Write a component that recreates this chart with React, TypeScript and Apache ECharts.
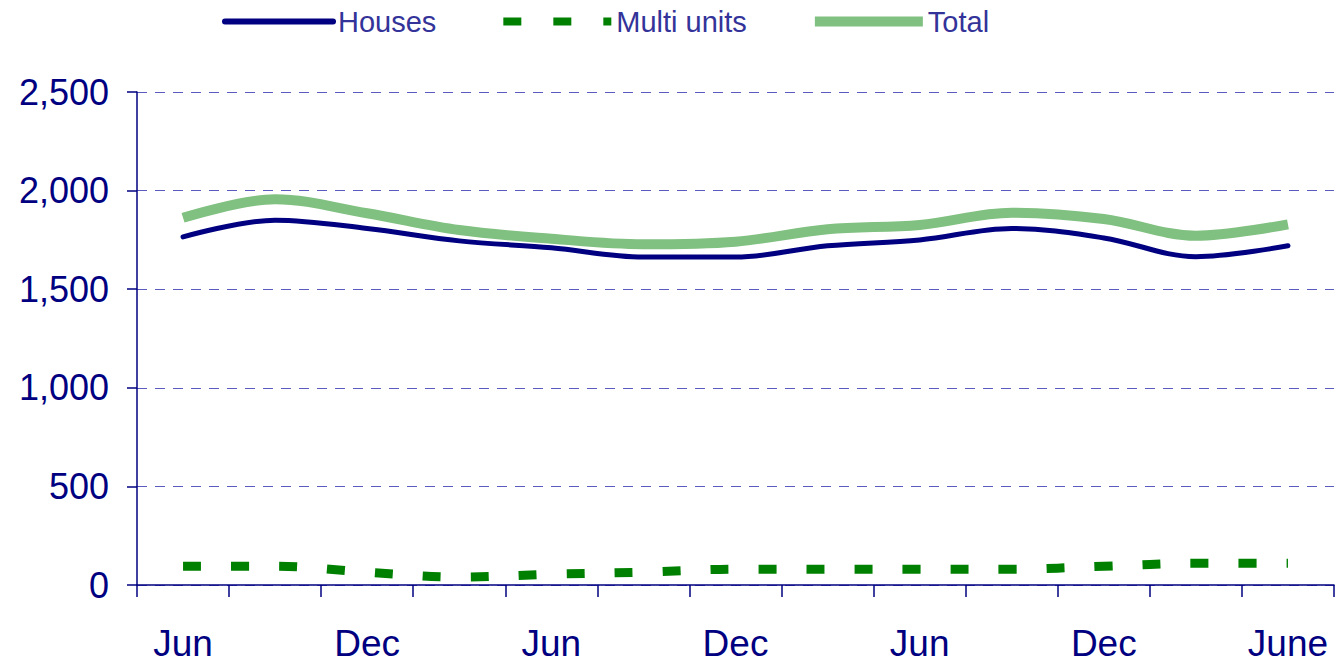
import React, { useEffect, useRef } from "react";
import * as echarts from "echarts";

const categories = ["Jun", "Sep", "Dec", "Mar", "Jun", "Sep", "Dec", "Mar", "Jun", "Sep", "Dec", "Mar", "June"];
const houses = [1765, 1850, 1808, 1745, 1710, 1663, 1663, 1720, 1750, 1808, 1760, 1665, 1720];
const multiUnits = [95, 95, 65, 40, 55, 65, 80, 80, 80, 80, 95, 110, 110];
const total = [1862, 1956, 1885, 1800, 1756, 1728, 1741, 1804, 1826, 1888, 1856, 1771, 1829];
const seriesNames = ["Houses", "Multi units", "Total"];
const yMin = 0;
const yMax = 2500;
const yStep = 500;

const NAVY = "#000080";
const GREEN = "#008000";
const LIGHT_GREEN = "#80c080";

export default function App() {
  const ref = useRef<HTMLDivElement>(null);
  useEffect(() => {
    if (!ref.current) return;
    const chart = echarts.init(ref.current, undefined, { renderer: "svg" });
    chart.setOption({
      animation: false,
      backgroundColor: "#ffffff",
      textStyle: { fontFamily: "Liberation Sans, Arial, sans-serif" },
      legend: {
        left: 222,
        top: 7,
        padding: 0,
        itemWidth: 108,
        itemHeight: 12,
        itemGap: 63,
        textStyle: { color: "#333399", fontSize: 29 },
        data: [
          {
            name: seriesNames[0],
            itemStyle: { opacity: 0 },
            lineStyle: { color: NAVY, width: 6, cap: "round" },
          },
          {
            name: seriesNames[1],
            itemStyle: { opacity: 0 },
            lineStyle: { color: GREEN, width: 8, type: [18, 32] },
          },
          {
            name: seriesNames[2],
            itemStyle: { opacity: 0 },
            lineStyle: { color: LIGHT_GREEN, width: 10 },
          },
        ],
      },
      grid: { left: 137, right: 2, top: 92, bottom: 78, containLabel: false },
      xAxis: {
        type: "category",
        data: categories,
        boundaryGap: true,
        axisLine: { show: true, lineStyle: { color: NAVY, width: 1.5 } },
        axisTick: { show: true, interval: 0, length: 12, lineStyle: { color: NAVY, width: 1.5 } },
        axisLabel: { interval: 1, color: NAVY, fontSize: 37, margin: 40 },
        splitLine: { show: false },
      },
      yAxis: {
        type: "value",
        min: yMin,
        max: yMax,
        interval: yStep,
        axisLine: { show: true, lineStyle: { color: NAVY, width: 1.5 } },
        axisTick: { show: true, length: 10, lineStyle: { color: NAVY, width: 1.5 } },
        axisLabel: {
          color: NAVY,
          fontSize: 36,
          margin: 28,
          formatter: (v: number) => v.toLocaleString("en-US"),
        },
        splitLine: { show: true, lineStyle: { color: "#5a5abf", width: 1, type: [10, 8] } },
      },
      series: [
        {
          name: seriesNames[0],
          type: "line",
          data: houses,
          smooth: 0.35,
          symbol: "none",
          z: 3,
          itemStyle: { color: NAVY },
          lineStyle: { color: NAVY, width: 5, cap: "round" },
        },
        {
          name: seriesNames[1],
          type: "line",
          data: multiUnits,
          smooth: 0.35,
          symbol: "none",
          z: 2,
          itemStyle: { color: GREEN },
          lineStyle: { color: GREEN, width: 9, type: [18, 30] },
        },
        {
          name: seriesNames[2],
          type: "line",
          data: total,
          smooth: 0.35,
          symbol: "none",
          z: 2,
          itemStyle: { color: LIGHT_GREEN },
          lineStyle: { color: LIGHT_GREEN, width: 10 },
        },
      ],
    });
    return () => chart.dispose();
  }, []);
  return (
    <div
      ref={ref}
      style={{ position: "absolute", left: 0, top: 0, width: 1336, height: 663 }}
    />
  );
}
